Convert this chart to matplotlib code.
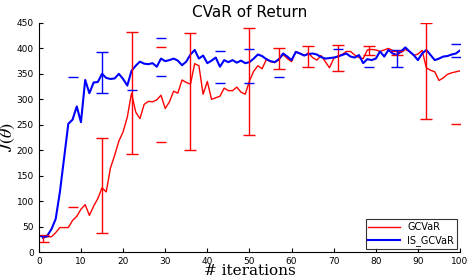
import matplotlib
matplotlib.use('Agg')
import matplotlib.pyplot as plt
import numpy as np

plt.rcParams['font.family'] = ['DejaVu Sans']
plt.rcParams['mathtext.fontset'] = 'stix'

# 迭代次数
iters = np.arange(1, 101)

# IS_GCVaR 曲线
is_gcvar = [28, 32, 45, 65, 118, 185, 252, 260, 286, 255,
            338, 312, 333, 334, 350, 342, 340, 341, 350, 340,
            327, 356, 366, 374, 370, 369, 371, 364, 380, 375,
            377, 380, 376, 367, 374, 388, 397, 380, 386, 371,
            376, 382, 364, 377, 373, 377, 372, 376, 371, 373,
            380, 388, 385, 379, 375, 373, 379, 390, 384, 377,
            393, 390, 386, 389, 390, 388, 383, 380, 381, 382,
            384, 387, 390, 384, 382, 387, 371, 379, 377, 380,
            394, 384, 397, 390, 387, 394, 402, 394, 387, 377,
            390, 397, 387, 377, 380, 384, 385, 388, 390, 396]

# GCVaR 曲线
gcvar = [28, 30, 30, 38, 48, 48, 48, 62, 70, 84,
         93, 72, 90, 105, 126, 118, 165, 190, 218, 236,
         265, 312, 275, 262, 290, 296, 295, 299, 308, 282,
         295, 316, 312, 338, 333, 330, 370, 366, 310, 335,
         300, 303, 306, 322, 317, 317, 324, 314, 310, 336,
         355, 366, 360, 378, 374, 372, 378, 388, 380, 374,
         394, 390, 386, 391, 382, 377, 386, 374, 362, 380,
         385, 388, 394, 394, 387, 382, 380, 397, 398, 397,
         394, 397, 400, 396, 394, 392, 398, 394, 386, 389,
         396, 362, 357, 354, 337, 342, 349, 352, 354, 356]

# 误差棒 (x, 下界, 上界)
gcvar_err_x = [1, 15, 22, 36, 50, 57, 64, 71, 78.5, 85, 92]
gcvar_err_lo = [19, 37, 193, 200, 230, 359, 363, 356, 388, 387, 261]
gcvar_err_hi = [33, 224, 433, 430, 441, 400, 405, 407, 405, 394, 449]
is_err_x = [15, 85]
is_err_lo = [312, 363]
is_err_hi = [392, 397]

# 单独可见的误差棒端帽
gcvar_caps_x = [8, 29, 29, 99]
gcvar_caps_y = [89, 402, 217, 252]
is_caps_x = [1, 8, 22, 29, 29, 43, 43, 50, 50, 57, 71, 78.5, 99, 99]
is_caps_y = [32, 344, 318, 420, 346, 395, 333, 398, 333, 343, 398, 363, 409, 383]

fig = plt.figure(figsize=(4.68, 2.80), dpi=100)
ax = fig.add_axes([0.083, 0.10, 0.900, 0.818])

ax.plot(iters, gcvar, color='red', linewidth=1.0, label='GCVaR')
ax.plot(iters, is_gcvar, color='blue', linewidth=1.5, label='IS_GCVaR')

ax.errorbar(gcvar_err_x, [(l + h) / 2 for l, h in zip(gcvar_err_lo, gcvar_err_hi)],
            yerr=[[(h - l) / 2 for l, h in zip(gcvar_err_lo, gcvar_err_hi)]] * 2,
            fmt='none', ecolor='red', elinewidth=1.0, capsize=4, capthick=1.0)
ax.errorbar(is_err_x, [(l + h) / 2 for l, h in zip(is_err_lo, is_err_hi)],
            yerr=[[(h - l) / 2 for l, h in zip(is_err_lo, is_err_hi)]] * 2,
            fmt='none', ecolor='blue', elinewidth=1.0, capsize=4, capthick=1.0)
ax.plot(gcvar_caps_x, gcvar_caps_y, linestyle='none', marker='_',
        markersize=7, markeredgewidth=1.0, color='red')
ax.plot(is_caps_x, is_caps_y, linestyle='none', marker='_',
        markersize=7, markeredgewidth=1.0, color='blue')

ax.set_xlim(0, 100)
ax.set_ylim(0, 450)
ax.set_xticks(np.arange(0, 101, 10))
ax.set_yticks(np.arange(0, 451, 50))
ax.tick_params(direction='in', labelsize=6.5, length=3, width=0.8)
ax.spines['top'].set_visible(False)
ax.spines['right'].set_visible(False)

ax.set_title('CVaR of Return', fontsize=11, pad=4)
ax.set_xlabel('# iterations', fontsize=11, family='DejaVu Serif', labelpad=-1)
ax.set_ylabel(r'$J(\theta)$', fontsize=13, labelpad=0)

leg = ax.legend(loc='lower right', fontsize=7, frameon=True, fancybox=False,
                edgecolor='black', borderpad=0.3, handlelength=3.2,
                labelspacing=0.3, borderaxespad=0.3)
leg.get_frame().set_linewidth(0.8)

plt.savefig('out.png', dpi=100)
